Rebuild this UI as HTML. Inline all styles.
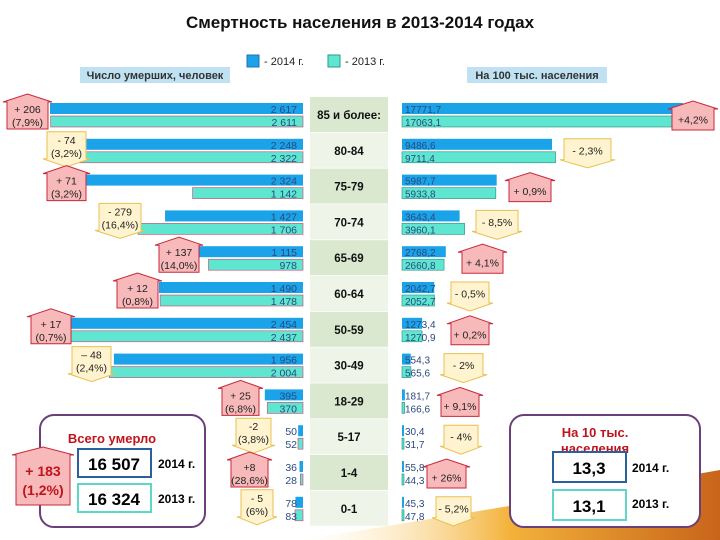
<!DOCTYPE html>
<html><head><meta charset="utf-8"><style>
body{margin:0;width:720px;height:540px;overflow:hidden;background:#fff;font-family:"Liberation Sans",sans-serif}
svg{display:block}
</style></head><body>
<svg id="c" width="720" height="540" xmlns="http://www.w3.org/2000/svg">
<defs><linearGradient id="sw" x1="0" y1="0" x2="1" y2="0"><stop offset="0" stop-color="#fff4d0" stop-opacity="0"/><stop offset="0.5" stop-color="#f3b23a"/><stop offset="1" stop-color="#c8641a"/></linearGradient></defs>
<path d="M300 540 Q520 505 720 470 L720 540 Z" fill="url(#sw)"/>
<text x="360" y="28" text-anchor="middle" font-size="17" font-weight="bold" fill="#111">Смертность населения в 2013-2014 годах</text>
<rect x="247" y="55" width="12" height="12" fill="#1aa3e8" stroke="#2a6fb0"/>
<text x="264" y="65" font-size="11" fill="#222">- 2014 г.</text>
<rect x="328" y="55" width="12" height="12" fill="#5ee6d0" stroke="#2a9a8a"/>
<text x="345" y="65" font-size="11" fill="#222">- 2013 г.</text>
<rect x="80" y="67" width="150" height="16" fill="#bfe1f2"/>
<text x="155" y="79" text-anchor="middle" font-size="11" font-weight="bold" fill="#333">Число умерших, человек</text>
<rect x="467" y="67" width="140" height="16" fill="#bfe1f2"/>
<text x="537" y="79" text-anchor="middle" font-size="11" font-weight="bold" fill="#333">На 100 тыс. населения</text>
<g id="g"></g>
<rect x="40" y="415" width="165" height="112" rx="14" fill="#fff" stroke="#6a3f7a" stroke-width="2"/>
<text x="112" y="443" text-anchor="middle" font-size="13" font-weight="bold" fill="#c0141c">Всего умерло</text>
<rect x="78" y="449" width="73" height="28" fill="#fff" stroke="#2a5fa0" stroke-width="2"/>
<text x="114" y="470" text-anchor="middle" font-size="17" font-weight="bold">16 507</text>
<text x="158" y="468" font-size="12" font-weight="bold">2014 г.</text>
<rect x="78" y="484" width="73" height="28" fill="#fff" stroke="#5ed6c8" stroke-width="2"/>
<text x="114" y="505" text-anchor="middle" font-size="17" font-weight="bold">16 324</text>
<text x="158" y="503" font-size="12" font-weight="bold">2013 г.</text>
<rect x="510" y="415" width="190" height="112" rx="14" fill="#fff" stroke="#6a3f7a" stroke-width="2"/>
<text x="595" y="437" text-anchor="middle" font-size="13" font-weight="bold" fill="#c0141c">На 10 тыс.</text>
<text x="595" y="453" text-anchor="middle" font-size="13" font-weight="bold" fill="#c0141c">населения</text>
<rect x="553" y="452" width="73" height="30" fill="#fff" stroke="#2a5fa0" stroke-width="2"/>
<text x="589" y="474" text-anchor="middle" font-size="17" font-weight="bold">13,3</text>
<text x="632" y="472" font-size="12" font-weight="bold">2014 г.</text>
<rect x="553" y="490" width="73" height="30" fill="#fff" stroke="#5ed6c8" stroke-width="2"/>
<text x="589" y="512" text-anchor="middle" font-size="17" font-weight="bold">13,1</text>
<text x="632" y="508" font-size="12" font-weight="bold">2013 г.</text>
<g id="g2"></g>
</svg>
<script>
const categories=["85 и более:","80-84","75-79","70-74","65-69","60-64","50-59","30-49","18-29","5-17","1-4","0-1"];
const deaths2014=[2617,2248,2324,1427,1115,1490,2454,1956,395,50,36,78];
const deaths2013=[2611,2322,1142,1706,978,1478,2437,2004,370,52,28,83];
const deathLabels2014=["2 617","2 248","2 324","1 427","1 115","1 490","2 454","1 956","395","50","36","78"];
const deathLabels2013=["2 611","2 322","1 142","1 706","978","1 478","2 437","2 004","370","52","28","83"];
const rate2014=[17771.7,9486.6,5987.7,3643.4,2768.2,2042.7,1273.4,554.3,181.7,30.4,55.8,45.3];
const rate2013=[17063.1,9711.4,5933.8,3960.1,2660.8,2052.7,1270.9,565.6,166.6,31.7,44.3,47.8];
const leftBadges=["+ 206|(7,9%)","- 74|(3,2%)","+ 71|(3,2%)","- 279|(16,4%)","+ 137|(14,0%)","+ 12|(0,8%)","+ 17|(0,7%)","– 48|(2,4%)","+ 25|(6,8%)","-2|(3,8%)","+8|(28,6%)","- 5|(6%)"];
const rightBadges=["+4,2%","- 2,3%","+ 0,9%","- 8,5%","+ 4,1%","- 0,5%","+ 0,2%","- 2%","+ 9,1%","- 4%","+ 26%","- 5,2%"];
const NS="http://www.w3.org/2000/svg";
let g=document.getElementById('g');
function el(t,a,txt){const e=document.createElementNS(NS,t);for(const k in a)e.setAttribute(k,a[k]);if(txt!=null)e.textContent=txt;g.appendChild(e);return e;}
const xL=v=>v*253/2617;
const xR=v=>v*281/17771.7;
const rowY=i=>103+i*35.8;
const lbPos=[[3,52],[43,90],[43,90],[95,145],[155,203],[113,162],[27,75],[68,115],[218,263],[232,275],[227,272],[237,277]];
const rbPos=[[668,718],[560,615],[505,555],[472,522],[458,507],[447,493],[447,493],[440,487],[437,483],[440,482],[423,470],[432,475]];
function badge(x1,x2,y,h,up,lines,name,opt){
  opt=opt||{};
  const c=up?"#f7b9b9":"#fff4cf",s=up?"#c8283a":"#e8c050";
  const r=6,p=up?`${x1},${y+r} ${(x1+x2)/2},${y-2} ${x2},${y+r} ${x2-4},${y+r} ${x2-4},${y+h} ${x1+4},${y+h} ${x1+4},${y+r}`
    :`${x1+4},${y} ${x2-4},${y} ${x2-4},${y+h-r} ${x2},${y+h-r} ${(x1+x2)/2},${y+h+2} ${x1},${y+h-r} ${x1+4},${y+h-r}`;
  const b=el('polygon',{points:p,fill:c,stroke:s,'stroke-width':1});
  
  
  const fs=opt.fs||10.5,lh=opt.lh||13;
  const cy=y+h/2+(up?3:-2);
  lines.forEach((l,k)=>{const t=el('text',{x:(x1+x2)/2,y:cy+fs*0.38+(k-(lines.length-1)/2)*lh,'text-anchor':'middle','font-size':fs,'font-weight':opt.bold?'bold':'normal',fill:opt.color||'#222'},l);
    
    });
}
categories.forEach((cat,i)=>{
  const y=rowY(i);
  const cell=el('rect',{x:310,y:y-6,width:78,height:35,fill:i%2?'#eef4e8':'#d9e8cf'});
  
  
  const ct=el('text',{x:349,y:y+16,'text-anchor':'middle','font-size':11.5,'font-weight':'bold',fill:'#111'},cat);
  
  
  const w1=xL(deaths2014[i]),w2=xL(deaths2013[i]);
  const b1=el('rect',{x:303-w1,y:y,width:w1,height:11,fill:'#1aa3e8'});
  
  
  const b2=el('rect',{x:303-w2,y:y+13,width:w2,height:11,fill:'#5ee6d0',stroke:'#d04070','stroke-width':0.6});
  
  
  const t1=el('text',{x:297,y:y+10,'text-anchor':'end','font-size':10.5,fill:'#2a4a80'},deathLabels2014[i]);
  
  
  const t2=el('text',{x:297,y:y+23,'text-anchor':'end','font-size':10.5,fill:'#2a4a80'},deathLabels2013[i]);
  
  
  const r1=Math.max(2,xR(rate2014[i])),r2=Math.max(2,xR(rate2013[i]));
  const c1=el('rect',{x:402,y:y,width:r1,height:11,fill:'#1aa3e8'});
  
  
  const c2=el('rect',{x:402,y:y+13,width:r2,height:11,fill:'#5ee6d0',stroke:'#2a8a80','stroke-width':0.6});
  
  
  const fmt=v=>v.toFixed(1).replace('.',',');
  const s1=el('text',{x:405,y:y+10,'font-size':10,fill:'#2a4a80'},fmt(rate2014[i]));
  
  
  const s2=el('text',{x:405,y:y+23,'font-size':10,fill:'#2a4a80'},fmt(rate2013[i]));
  
  
  const lu=deaths2014[i]>=deaths2013[i];
  badge(lbPos[i][0],lbPos[i][1],y-7,33,lu,leftBadges[i].split('|'),'deaths-change-badge');
  const ru=rate2014[i]>=rate2013[i];
  badge(rbPos[i][0],rbPos[i][1],y,27,ru,[rightBadges[i]],'rate-change-badge');
});
g=document.getElementById('g2');
badge(12,74,449,56,true,["+ 183","(1,2%)"],'total-change-badge',{fs:14,lh:19,bold:true,color:'#c0141c'});
</script>
</body></html>
